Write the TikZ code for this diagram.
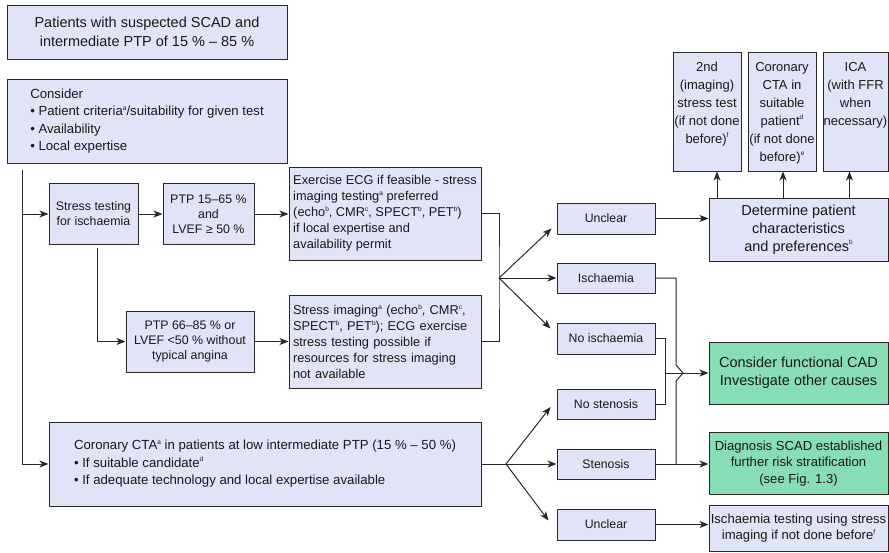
\documentclass[tikz,border=0pt]{standalone}
\usepackage{fontspec}
\setmainfont{Liberation Sans}
\usetikzlibrary{arrows.meta,calc}
\definecolor{lav}{RGB}{225,228,247}
\definecolor{grn}{RGB}{136,222,180}
\definecolor{lc}{RGB}{40,40,40}
\definecolor{tx}{RGB}{25,25,25}
\newcommand{\sps}[1]{\raisebox{0.42em}{\fontsize{6.5}{6.5}\selectfont #1}}
\newcommand{\tbox}[2]{\parbox[c][119pt][t]{#1}{\centering\fontsize{13}{18}\selectfont\vspace*{10pt}#2}}
\begin{document}
\begin{tikzpicture}[x=1pt,y=-1pt,
  box/.style={draw=lc, fill=lav, line width=1pt, text=tx, inner sep=2pt, align=center},
  fTop/.style={font=\fontsize{14.5}{19}\selectfont},
  fCon/.style={font=\fontsize{13.2}{17.5}\selectfont},
  fM/.style={font=\fontsize{12.8}{16}\selectfont},
  fS/.style={font=\fontsize{12.4}{15}\selectfont},
  fR/.style={font=\fontsize{12.3}{15}\selectfont},
  fBig/.style={font=\fontsize{14.5}{17.8}\selectfont},
  fD/.style={font=\fontsize{13.1}{16.7}\selectfont},
  conn/.style={draw=lc, line width=1pt},
  arr/.style={conn, -{Stealth[length=9pt,width=7pt,inset=2.5pt]}}]
\useasboundingbox (0,0) rectangle (889,552);

% left column
\node[box, fTop, minimum width=280pt, minimum height=54pt] (top) at (147,32)
  {Patients with suspected SCAD and\\intermediate PTP of 15 \% – 85 \%};
\node[box, fCon, minimum width=280pt, minimum height=84pt, align=left] (consider) at (147,121)
  {Consider\\• Patient criteria\sps{a}/suitability for given test\\• Availability\\• Local expertise};
\node[box, fS, minimum width=89pt, minimum height=61pt] (stress) at (93.5,214)
  {Stress testing\\for ischaemia};
\node[box, fS, minimum width=91pt, minimum height=61pt] (ptp1) at (208.5,214)
  {PTP 15–65 \%\\and\\LVEF ≥ 50 \%};
\node[box, fM, minimum width=192pt, minimum height=93pt, align=left] (exer) at (385,213.5)
  {Exercise ECG if feasible - stress\\imaging testing\sps{a} preferred\\(echo\sps{b}, CMR\sps{c}, SPECT\sps{b}, PET\sps{b})\\if local expertise and\\availability permit};
\node[box, fS, minimum width=128pt, minimum height=61pt] (ptp2) at (190,341.5)
  {PTP 66–85 \% or\\LVEF <50 \% without\\typical angina};
\node[box, fM, text width=184pt, inner xsep=4pt, minimum height=93pt, align=left] (simg) at (385,341.5)
  {Stress imaging\sps{a} (echo\sps{b}, CMR\sps{c},\\SPECT\sps{b}, PET\sps{b}); ECG exercise\\stress testing possible if\\resources for stress imaging\\not available};
\node[box, fCon, minimum width=432pt, minimum height=84pt, align=left] (cta) at (265,464)
  {Coronary CTA\sps{a} in patients at low intermediate PTP (15 \% – 50 \%)\\• If suitable candidate\sps{d}\\• If adequate technology and local expertise available};

% result column
\node[box, fR, minimum width=98pt, minimum height=31pt] (unc1) at (606,218.5) {Unclear};
\node[box, fR, minimum width=98pt, minimum height=30pt] (isch) at (606,278) {Ischaemia};
\node[box, fR, minimum width=98pt, minimum height=31pt] (noisch) at (606,338.5) {No ischaemia};
\node[box, fR, minimum width=98pt, minimum height=30pt] (nosten) at (606,404) {No stenosis};
\node[box, fR, minimum width=98pt, minimum height=30pt] (sten) at (606,464) {Stenosis};
\node[box, fR, minimum width=98pt, minimum height=31pt] (unc2) at (606,524.5) {Unclear};

% right column
\node[box, fBig, minimum width=179pt, minimum height=63pt] (det) at (798.5,229.5)
  {Determine patient\\characteristics\\and preferences\sps{b}};
\node[box, fill=grn, fBig, minimum width=179pt, minimum height=62pt] (func) at (798.5,373)
  {Consider functional CAD\\Investigate other causes};
\node[box, fill=grn, fD, minimum width=179pt, minimum height=62pt] (diag) at (798.5,463.5)
  {Diagnosis SCAD established\\further risk stratification\\(see Fig. 1.3)};
\node[box, fD, minimum width=179pt, minimum height=46pt, inner sep=0pt] (itest) at (798.5,528)
  {Ischaemia testing using stress\\imaging if not done before\sps{f}};

% top boxes
\node[box, inner sep=0pt] (tA) at (707,111.5)
  {\tbox{68pt}{2nd\\(imaging)\\stress test\\(if not done\\before)\sps{f}}};
\node[box, inner sep=0pt] (tB) at (782,111.5)
  {\tbox{68pt}{Coronary\\CTA in\\suitable\\patient\sps{d}\\(if not done\\before)\sps{e}}};
\node[box, inner sep=0pt] (tC) at (855.5,111.5)
  {\tbox{65pt}{ICA\\(with FFR\\when\\necessary)}};

% connectors
\coordinate (vtop) at (22.7,170);
\draw[arr] (vtop) |- (cta.west);
\draw[arr] (vtop |- stress.west) -- (stress.west);
\draw[arr] (stress.east) -- (ptp1.west);
\draw[arr] (ptp1.east) -- (ptp1.east -| exer.west);
\coordinate (s1) at (97,248);
\draw[arr] (s1) |- (ptp2.west);
\draw[arr] (ptp2.east) -- (ptp2.east -| simg.west);

\coordinate (b1) at (499,278);
\draw[conn] (exer.east) -| (b1) |- (simg.east);
\draw[arr] (b1) -- ($(unc1.west)+(-5,10)$);
\draw[arr] (b1) -- (b1 -| isch.west);
\draw[arr] (b1) -- ($(noisch.west)+(-6,-10)$);
\draw[arr] (unc1.east) -- (unc1.east -| det.west);

\coordinate (ua) at ([xshift=10pt]tA.south);
\coordinate (ub) at ([xshift=1pt]tB.south);
\coordinate (uc) at ([xshift=-6pt]tC.south);
\draw[arr] (ua |- det.north) -- (ua);
\draw[arr] (ub |- det.north) -- (ub);
\draw[arr] (uc |- det.north) -- (uc);

\coordinate (jx) at (665,0);
\coordinate (ix) at (676,0);
\draw[conn] (noisch.east) -| (jx |- nosten.east) -- (nosten.east);
\draw[arr] (jx |- func.west) -- (func.west);
\coordinate (hop) at (ix |- func.west);
\draw[conn] (isch.east) -| ($(hop)+(0,-8)$) -- ($(hop)+(7,0)$) -- ($(hop)+(0,8)$) -- (ix |- sten.east);
\draw[arr] (sten.east) -- (sten.east -| diag.west);

\coordinate (b2) at (506,464);
\draw[conn] (cta.east) -- (b2);
\draw[arr] (b2) -- ($(nosten.west)+(-6,3)$);
\draw[arr] (b2) -- (sten.west);
\draw[arr] (b2) -- ($(unc2.west)+(-8,-4)$);
\draw[arr] (unc2.east) -- (unc2.east -| itest.west);
\end{tikzpicture}
\end{document}
